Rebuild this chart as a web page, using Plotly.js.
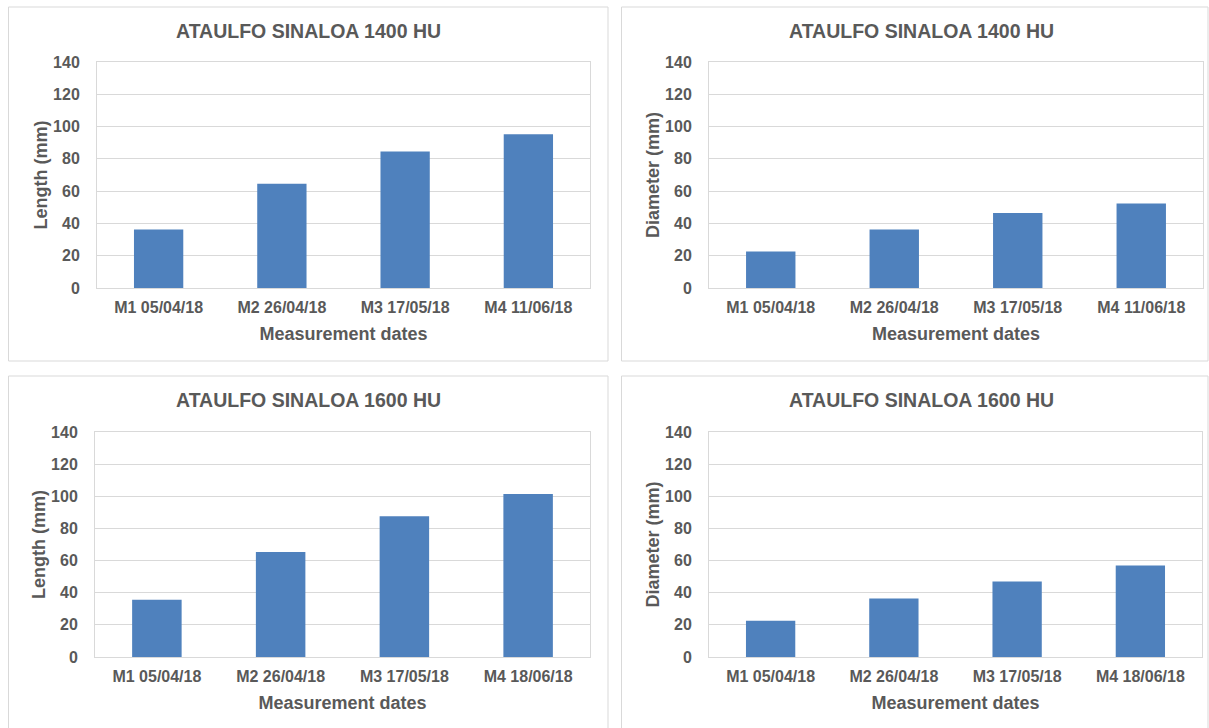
<!DOCTYPE html>
<html>
<head>
<meta charset="utf-8">
<script src="https://cdn.plot.ly/plotly-3.0.1.min.js"></script>
<style>html,body{margin:0;padding:0;background:#fff;}#chart{width:1209px;height:728px;}</style>
</head>
<body>
<div id="chart"></div>
<script>
// Data
const dates1400 = ["M1 05/04/18", "M2 26/04/18", "M3 17/05/18", "M4 11/06/18"];
const dates1600 = ["M1 05/04/18", "M2 26/04/18", "M3 17/05/18", "M4 18/06/18"];
const length1400 = [36.2, 64.6, 84.5, 95.3];
const diameter1400 = [22.6, 36.2, 46.4, 52.4];
const length1600 = [35.6, 65.4, 87.6, 101.5];
const diameter1600 = [22.6, 36.4, 47.0, 56.9];
const titles = ["ATAULFO SINALOA 1400 HU", "ATAULFO SINALOA 1400 HU", "ATAULFO SINALOA 1600 HU", "ATAULFO SINALOA 1600 HU"];
const yTitles = ["Length (mm)", "Diameter (mm)", "Length (mm)", "Diameter (mm)"];
const xTitle = "Measurement dates";
const yTicks = [0, 20, 40, 60, 80, 100, 120, 140];

const W = 1209, H = 728;
const TXT = "#595959";
const GRID = "#d9d9d9";
const BAR = "#4f81bd";
const FONT = "Liberation Sans, Arial, sans-serif";

const panels = [
  {x: dates1400, y: length1400, plot: [97, 590, 62, 288], box: [8.5, 608, 7, 361], title: [308, 31]},
  {x: dates1400, y: diameter1400, plot: [709, 1203, 62, 288], box: [621.5, 1208, 7, 361], title: [921, 31]},
  {x: dates1600, y: length1600, plot: [95, 590, 432, 657], box: [8.5, 608, 376, 740], title: [308, 400]},
  {x: dates1600, y: diameter1600, plot: [709, 1202, 432, 657], box: [621.5, 1208, 376, 740], title: [921, 400]}
];

const px = v => v / W;
const py = v => 1 - v / H;

const data = [];
const layout = {
  width: W, height: H,
  margin: {l: 0, r: 0, t: 0, b: 0},
  paper_bgcolor: "#fff", plot_bgcolor: "#fff",
  showlegend: false,
  bargap: 0.6,
  font: {family: FONT, color: TXT},
  shapes: [], annotations: []
};

panels.forEach((p, i) => {
  const n = i + 1;
  const sfx = n === 1 ? "" : String(n);
  data.push({
    type: "bar", x: p.x, y: p.y,
    xaxis: "x" + sfx, yaxis: "y" + sfx,
    marker: {color: BAR, line: {width: 0}},
    hoverinfo: "x+y"
  });
  layout["xaxis" + sfx] = {
    domain: [px(p.plot[0]), px(p.plot[1])],
    anchor: "y" + sfx,
    type: "category",
    showline: true, mirror: true, linecolor: GRID, linewidth: 1,
    showgrid: false, zeroline: false, ticks: "",
    ticklabelstandoff: 5,
    tickfont: {family: FONT, size: 16, color: TXT, weight: "bold"},
    title: {text: xTitle, standoff: 12, font: {family: FONT, size: 18, color: TXT, weight: "bold"}},
    automargin: false, fixedrange: true
  };
  layout["yaxis" + sfx] = {
    domain: [py(p.plot[3]), py(p.plot[2])],
    anchor: "x" + sfx,
    range: [0, 140], tickvals: yTicks,
    showline: true, mirror: true, linecolor: GRID, linewidth: 1,
    showgrid: true, gridcolor: GRID, gridwidth: 1, zeroline: false, ticks: "",
    ticklabelstandoff: 13,
    tickfont: {family: FONT, size: 16, color: TXT, weight: "bold"},
    title: {text: yTitles[i], font: {family: FONT, size: 18, color: TXT, weight: "bold"}},
    automargin: false, fixedrange: true
  };
  layout.shapes.push({
    type: "rect", xref: "paper", yref: "paper",
    x0: px(p.box[0]), x1: px(p.box[1]), y0: py(p.box[3]), y1: py(p.box[2]),
    line: {color: GRID, width: 1}, fillcolor: "rgba(0,0,0,0)", layer: "below"
  });
  layout.annotations.push({
    text: titles[i], xref: "paper", yref: "paper",
    x: px(p.title[0]), y: py(p.title[1]), xanchor: "center", yanchor: "middle",
    showarrow: false,
    font: {family: FONT, size: 19.5, color: TXT, weight: "bold"}
  });
});

Plotly.newPlot("chart", data, layout, {displayModeBar: false, staticPlot: true});
</script>
</body>
</html>
